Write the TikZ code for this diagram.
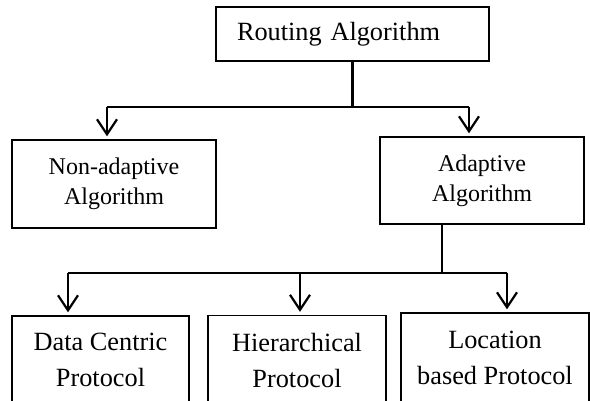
\documentclass[tikz,border=0pt]{standalone}
\usepackage{fontspec}
\setmainfont{Liberation Serif}
\usetikzlibrary{arrows.meta}

\def\bigtext{\fontsize{26.3}{36}\selectfont}
\def\midtext{\fontsize{24}{30}\selectfont}
\tikzset{box/.style={draw, line width=1.4pt, inner sep=0pt, align=center},
    link/.style={line width=2.2pt},
    arrow/.style={link, -{Straight Barb[length=15pt,width=20pt]}, shorten >=3pt}}

\begin{document}
\begin{tikzpicture}[x=1pt, y=-1pt]
    \useasboundingbox (0,0) rectangle (590,400);

    \node[box, minimum width=273, minimum height=54, text width=231, inner xsep=21, align=left, font=\bigtext] (route) at (352.5,34) {Routing Algorithm};

    \node[box, minimum width=204, minimum height=88, font=\midtext] (nonadapt) at (114,184) {Non-adaptive\\Algorithm};
    \node[box, minimum width=204, minimum height=87, font=\midtext] (adapt) at (482,180.5) {Adaptive\\Algorithm};

    \node[box, minimum width=177, minimum height=88, font=\bigtext] (datac) at (100.5,360) {Data Centric\\Protocol};
    \node[box, minimum width=178, minimum height=89, font=\bigtext] (hier) at (297,360) {Hierarchical\\Protocol};
    \node[box, minimum width=188, minimum height=90, font=\bigtext] (loc) at (495,358) {Location\\based Protocol};

    % first split
    \coordinate (fork1) at (352.5,107);
    \coordinate (left1) at (107,107);
    \coordinate (right1) at (469,107);
    \draw[link] (route.south) -- (fork1);
    \draw[link] (left1) -- (right1);
    \draw[arrow] (left1) -- (left1 |- nonadapt.north);
    \draw[arrow] (right1) -- (right1 |- adapt.north);

    % second split
    \coordinate (fork2) at (441.7,272.7);
    \coordinate (left2) at (68,272.7);
    \coordinate (mid2) at (300,272.7);
    \coordinate (right2) at (507,272.7);
    \draw[link] (adapt.south -| fork2) -- (fork2);
    \draw[link] (left2) -- (right2);
    \draw[arrow] (left2) -- (left2 |- datac.north);
    \draw[arrow] (mid2) -- (mid2 |- hier.north);
    \draw[arrow] (right2) -- (right2 |- loc.north);
\end{tikzpicture}
\end{document}
